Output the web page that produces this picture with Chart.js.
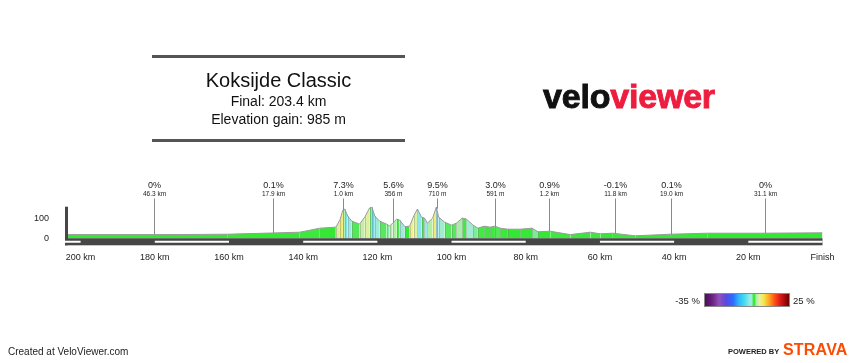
<!DOCTYPE html>
<html><head><meta charset="utf-8">
<script src="https://cdn.jsdelivr.net/npm/chart.js@4.4.1/dist/chart.umd.min.js"></script>
<style>
html,body{margin:0;padding:0;background:#fff;}
#wrap{position:relative;width:859px;height:363px;overflow:hidden;font-family:"Liberation Sans",Arial,sans-serif;color:#111;}
canvas{position:absolute;left:0;top:0;}
.t{position:absolute;white-space:nowrap;}
.rule{position:absolute;left:152px;width:253px;height:3px;background:#555;}
</style></head><body>
<div id="wrap">
<canvas id="c" width="859" height="363"></canvas>
<div class="rule" style="top:55px"></div>
<div class="rule" style="top:139px"></div>
<div class="t" style="left:152px;width:253px;text-align:center;top:69.5px;font-size:20px;line-height:20px;">Koksijde Classic</div>
<div class="t" style="left:152px;width:253px;text-align:center;top:93.5px;font-size:14px;line-height:14px;">Final: 203.4 km</div>
<div class="t" style="left:152px;width:253px;text-align:center;top:111.5px;font-size:14px;line-height:14px;">Elevation gain: 985 m</div>
<div class="t" style="left:543px;top:79px;font-size:34px;line-height:34px;font-weight:bold;letter-spacing:-0.2px;-webkit-text-stroke:0.9px currentColor;"><span style="color:#111">velo</span><span style="color:#ee1c3e">viewer</span></div>
<div class="t" style="left:660px;width:40px;text-align:right;top:296px;font-size:9.5px;line-height:9.5px;color:#222">-35 %</div>
<div id="lgBar" style="position:absolute;left:704px;top:293px;width:84px;height:12px;border:1px solid #888;"></div>
<div class="t" style="left:793px;top:296px;font-size:9.5px;line-height:9.5px;color:#222">25 %</div>
<div class="t" style="left:8px;top:346.5px;font-size:10px;line-height:10px;color:#222">Created at VeloViewer.com</div>
<div class="t" style="left:728px;top:348px;font-size:7.5px;line-height:7.5px;font-weight:bold;color:#222">POWERED BY</div>
<div class="t" style="left:783px;top:341.5px;font-size:16px;line-height:16px;font-weight:bold;color:#fc4c02;letter-spacing:0.2px">STRAVA</div>
</div>
<script>
// distance remaining to finish (km) and elevation (m)
const distanceKm = [203.4,189.4,180.0,167.8,160.3,154.4,148.5,140.9,135.5,131.2,130.1,129.3,128.8,128.0,126.9,124.8,123.4,122.1,121.5,120.7,119.4,117.5,116.7,115.9,114.8,114.0,112.6,111.3,110.2,109.2,108.1,107.3,106.5,105.1,104.1,103.5,101.9,100.0,98.7,97.1,96.0,94.2,92.9,91.2,89.6,88.3,86.9,84.8,81.5,78.3,76.7,73.4,68.0,62.6,59.9,56.5,50.5,41.1,31.1,16.8,0];
const elevationM = [18,18,18,19,20,23,26,30,50,55,90,140,145,110,85,70,105,150,155,110,85,70,60,75,95,90,58,60,110,145,105,100,75,100,155,105,80,65,75,100,95,65,50,60,55,60,50,45,45,50,32,35,18,30,22,25,12,20,25,25,27];
const xTickValues = [200,180,160,140,120,100,80,60,40,20,0];
const yTickValues = [0,100];
const climbKm = [180.2,148.2,129.3,115.8,104.0,88.4,73.8,56.0,40.9,15.6];
const climbGradeLabels = ['0%','0.1%','7.3%','5.6%','9.5%','3.0%','0.9%','-0.1%','0.1%','0%'];
const climbLengthLabels = ['46.3 km','17.9 km','1.0 km','356 m','710 m','591 m','1.2 km','11.8 km','19.0 km','31.1 km'];
const scaleMinPct = -35, scaleMaxPct = 25;

const FONT = '"Liberation Sans", Arial, sans-serif';
const colorStops = [
  [-35,'#4a0f5a'],[-30,'#6a1f7e'],[-25,'#9050b8'],[-20,'#5a48e0'],[-15,'#2a6cff'],[-11,'#30b4ff'],
  [-7,'#40dcec'],[-3,'#98eaec'],[-1.5,'#a0ecd0'],[-0.6,'#44ea44'],[0,'#33e833'],[0.6,'#44ea44'],
  [1.5,'#a6eea6'],[4,'#ecf0a0'],[7,'#f2e84a'],[11,'#ffa020'],[15,'#ff4a1a'],[19,'#d81818'],[25,'#6e0000']
];
function hex(h){return [parseInt(h.substr(1,2),16),parseInt(h.substr(3,2),16),parseInt(h.substr(5,2),16)];}
function gradeColor(g){
  if(g<=colorStops[0][0]) return colorStops[0][1];
  for(let i=1;i<colorStops.length;i++){
    if(g<=colorStops[i][0]){
      const [a,ca]=colorStops[i-1],[b,cb]=colorStops[i];
      const t=(g-a)/(b-a), A=hex(ca), B=hex(cb);
      return 'rgb('+A.map((v,k)=>Math.round(v+(B[k]-v)*t)).join(',')+')';
    }
  }
  return colorStops[colorStops.length-1][1];
}
function gradeAt(i){
  const dk=distanceKm[i]-distanceKm[i+1];
  return (elevationM[i+1]-elevationM[i])/(dk*10);
}
function elevAt(km){
  for(let i=0;i<distanceKm.length-1;i++){
    if(km<=distanceKm[i] && km>=distanceKm[i+1]){
      const t=(distanceKm[i]-km)/(distanceKm[i]-distanceKm[i+1]);
      return elevationM[i]+(elevationM[i+1]-elevationM[i])*t;
    }
  }
  return 0;
}
document.getElementById('lgBar').style.background='linear-gradient(to right,'+
  colorStops.map(s=>s[1]+' '+((s[0]-scaleMinPct)/(scaleMaxPct-scaleMinPct)*100).toFixed(2)+'%').join(',')+')';

const profilePlugin = {
  id:'profile',
  afterDatasetsDraw(chart){
    const {ctx, chartArea:a, scales:{x,y}} = chart;
    ctx.save();
    const y0 = y.getPixelForValue(0);
    // segment separators
    ctx.strokeStyle='rgba(120,120,120,0.35)'; ctx.lineWidth=1;
    for(let i=9;i<distanceKm.length-10;i++){
      const px=Math.round(x.getPixelForValue(distanceKm[i]))+0.5;
      ctx.beginPath(); ctx.moveTo(px,y.getPixelForValue(elevationM[i])); ctx.lineTo(px,y0); ctx.stroke();
    }
    // base bar
    ctx.fillStyle='#464646';
    ctx.fillRect(a.left-3, y0, a.right-a.left+3, a.bottom-y0);
    ctx.fillRect(a.left-3, a.top, 3, a.bottom-a.top);
    // alternating distance stripes
    ctx.fillStyle='#fff';
    const edges=[x.max].concat(xTickValues);
    for(let i=0;i<edges.length-1;i++){
      const hi=edges[i], lo=edges[i+1];
      if(Math.round(lo)%40===0){
        const p0=x.getPixelForValue(hi), p1=x.getPixelForValue(lo);
        ctx.fillRect(Math.min(p0,p1)-(i===0?3:0), y0+2.5, Math.abs(p1-p0)+(i===0?3:0), 2);
      }
    }
    // climb annotations
    ctx.textAlign='center'; ctx.textBaseline='middle';
    climbKm.forEach((km,i)=>{
      const px=Math.round(x.getPixelForValue(km))+0.5;
      const py=y.getPixelForValue(elevAt(km));
      ctx.strokeStyle='#8a8a8a'; ctx.lineWidth=1;
      ctx.beginPath(); ctx.moveTo(px,198.5); ctx.lineTo(px,py); ctx.stroke();
      ctx.fillStyle='#222';
      ctx.font='9px '+FONT; ctx.fillText(climbGradeLabels[i], px, 185.5);
      ctx.font='6.5px '+FONT; ctx.fillText(climbLengthLabels[i], px, 194);
    });
    ctx.restore();
  }
};

new Chart(document.getElementById('c'), {
  type:'line',
  data:{datasets:[{
    data: distanceKm.map((d,i)=>({x:d,y:elevationM[i]})),
    fill:{value:0},
    backgroundColor:'#33e833',
    borderColor:'#9a9a9a', borderWidth:1,
    pointRadius:0, tension:0,
    segment:{ backgroundColor: c => gradeColor(gradeAt(c.p0DataIndex)) }
  }]},
  options:{
    responsive:false, animation:false, devicePixelRatio:1,
    layout:{padding:{left:0,right:36.5,top:206.7,bottom:0}},
    plugins:{legend:{display:false}, tooltip:{enabled:false}},
    scales:{
      x:{type:'linear', reverse:true, min:0, max:203.4,
        afterBuildTicks:s=>{s.ticks=xTickValues.map(v=>({value:v}));},
        afterFit:s=>{s.height=117.7;},
        grid:{display:false}, border:{display:false},
        ticks:{autoSkip:false, maxRotation:0, padding:-1.5, color:'#222', font:{family:FONT,size:9},
          callback:v=> v===0?'Finish':v+' km'}},
      y:{min:-35, max:156.5,
        afterBuildTicks:s=>{s.ticks=yTickValues.map(v=>({value:v}));},
        afterFit:s=>{s.width=68;},
        grid:{display:false}, border:{display:false},
        ticks:{padding:11, color:'#222', font:{family:FONT,size:9}}}
    }
  },
  plugins:[profilePlugin]
});
</script>
</body></html>
